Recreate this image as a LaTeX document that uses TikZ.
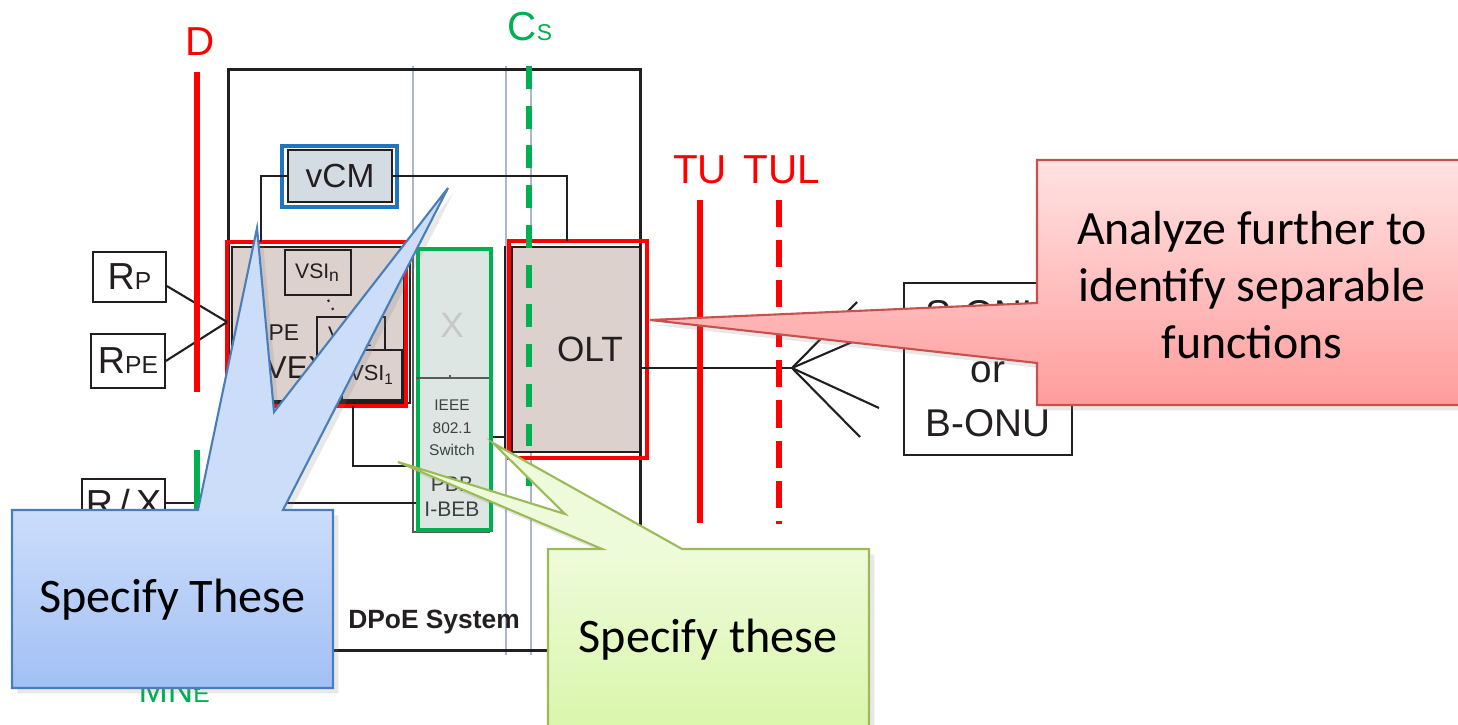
\documentclass[tikz,border=0pt]{standalone}
\usepackage{fontspec}
\setmainfont{Liberation Sans}
\newfontfamily\callfont{Carlito}
\usetikzlibrary{positioning,calc,shadows}
\definecolor{mred}{HTML}{FF0000}
\definecolor{mgreen}{HTML}{00B050}
\definecolor{inkc}{HTML}{231F20}
\definecolor{peFill}{HTML}{DCD1CD}
\definecolor{swFill}{HTML}{DDE6E3}
\definecolor{vcmFill}{HTML}{D3DCE2}
\definecolor{vcmBlue}{HTML}{1F77C4}
\definecolor{guide}{HTML}{A9B8CE}
\definecolor{blueTop}{HTML}{CCDDFA}
\definecolor{blueBot}{HTML}{A2C0F5}
\definecolor{blueEdge}{HTML}{4A7EBB}
\definecolor{greenTop}{HTML}{EEFBDA}
\definecolor{greenBot}{HTML}{D6F5A3}
\definecolor{greenEdge}{HTML}{9BBB59}
\definecolor{redTop}{HTML}{FFE3E3}
\definecolor{redBot}{HTML}{FF9C9C}
\definecolor{redEdge}{HTML}{C8504D}
\newcommand{\fsz}[2]{\fontsize{#1}{#2}\selectfont}

\begin{document}
\begin{tikzpicture}[x=0.01cm,y=-0.01cm,
  box/.style={draw=inkc,line width=0.45pt,fill=white,inner sep=0pt,text=inkc},
  fbox/.style={box,fill=peFill},
  wire/.style={draw=inkc,line width=0.6pt},
  refline/.style={line width=1.7pt},
  callout/.style={line width=0.6pt,drop shadow={opacity=0.18,shadow xshift=1.5pt,shadow yshift=-1.5pt}},
  bluepath/.style={insert path={(12,510) -- (198,510) -- (257,228) -- (274,412) -- (448,188) -- (283,510) -- (333,510) -- (333,688) -- (12,688) -- cycle}},
  greenpath/.style={insert path={(548,549) -- (602,549) -- (398,462) -- (565,514) -- (493,443) -- (682,549) -- (869,549) -- (869,760) -- (548,760) -- cycle}},
  redpath/.style={insert path={(1037,160) -- (1470,160) -- (1470,405) -- (1037,405) -- (1037,363) -- (650,320) -- (1037,303) -- cycle}}]
  \useasboundingbox (0,0) rectangle (1458,725);

  \foreach \x/\t/\b in {413/66/248,506/66/655,531/66/655}
     {\draw[guide,line width=0.5pt] (\x,\t) -- (\x,\b);}
  \node[draw=inkc,line width=0.9pt,minimum width=4.11cm,minimum height=5.8cm] (dpoe) at (434.5,360) {};
  \node[font=\bfseries\fsz{7.5}{9},text=inkc] (dpoelbl) at (434,622) {DPoE System};

  % boxes
  \node[box,minimum width=0.73cm,minimum height=0.5cm] (rp) at (129.5,277) {{\fsz{10.7}{12}R}{\fsz{7}{8}P}};
  \node[box,minimum width=0.74cm,minimum height=0.54cm] (rpe) at (128,361) {{\fsz{10.7}{12}R}{\fsz{7}{8}PE}};
  \node[box,anchor=north,minimum width=0.83cm,inner ysep=0.1cm] (rx) at (123.5,478) {\fsz{10.7}{12}R\,/\,X};
  \node[box,fill=vcmFill,minimum width=1.04cm,minimum height=0.52cm,font=\fsz{9.5}{11}] (vcm) at (340,176) {vCM};
  \draw[vcmBlue,line width=1.1pt] ($(vcm.north west)+(-5,-3)$) rectangle ($(vcm.south east)+(4,4)$);

  \draw[inkc,line width=0.6pt] (410,249) |- (235,403);
  \node[fbox,minimum width=1.72cm,minimum height=1.54cm] (pe) at (318,324) {};
  \draw[mred,line width=1.2pt] ($(pe.north west)+(-4,-4)$) rectangle ($(pe.south east)+(1,4)$);
  \node[text=inkc,anchor=west,inner sep=0pt,font=\fsz{6.5}{8}] (pelbl) at (268,333) {PE};
  \node[text=inkc,anchor=west,inner sep=0pt,font=\fsz{9}{11}] (vexlbl) at (265,368) {VEX};
  \node[fbox,minimum width=0.66cm,minimum height=0.45cm,font=\fsz{6}{7}] (vsin) at (318,272.5) {VSI\textsubscript{n}};
  \node[fbox,minimum width=0.68cm,minimum height=0.4cm,font=\fsz{6}{7}] (vsi2) at (351,337) {VSI\textsubscript{2}};
  \node[fbox,minimum width=0.6cm,minimum height=0.5cm,font=\fsz{6.2}{7}] (vsi1) at (372,375) {VSI\textsubscript{1}};
  \draw[inkc,dotted,line width=0.6pt] ($(vsin.south)+(10,4)$) -- ($(vsi2.north)+(-15,-1)$);

  \draw[gray!70!black,line width=0.6pt] (413,248) rectangle (489,532);
  \node[box,fill=swFill,draw=mgreen,line width=1.2pt,minimum width=0.73cm,minimum height=2.81cm] (sw) at (454.5,389.5) {};
  \draw[gray!70!black,line width=0.4pt] ($(sw.west)+(0,-11.5)$) -- ($(sw.east)+(-4,-11.5)$);
  \draw[gray!70!black,line width=0.4pt] ($(sw.west)+(34,-11.5)$) -- ++(0,-3);
  \node[text=black!22,font=\fsz{10}{12}] (swx) at (452,325) {X};
  \node[text=black!75,font=\fsz{4.4}{6.4},align=center] (swlbl) at (452,428) {IEEE\\802.1\\Switch};
  \node[text=black!75,font=\fsz{6}{7.2},align=center] (pbb) at (452,497) {PBB\\I-BEB};

  \node[fbox,minimum width=1.28cm,minimum height=2.05cm] (olt) at (576,349.5) {};
  \draw[inkc,line width=0.6pt] ($(olt.north west)+(-6,0)$) -- ($(olt.south west)+(-6,0)$);
  \draw[mred,line width=1.2pt] ($(olt.north west)+(-2,-5)$) rectangle ($(olt.south east)+(6,5)$);
  \node[text=inkc,font=\fsz{10}{12}] (oltlbl) at (590,349) {OLT};

  \node[box,minimum width=1.68cm,minimum height=1.72cm,font=\fsz{11}{15.5},align=center] (onu) at (988,369) {S-ONU\\or\\B-ONU};

  % connectors
  \coordinate (pejoin) at ($(pe.west)+(-4,-2)$);
  \draw[wire] ($(rp.east)+(0,9)$) -- (pejoin);
  \draw[wire] (rpe.east) -- (pejoin);
  \draw[wire] (vcm.west) -| ($(pe.north west)!.174!(pe.north east)+(0,-4)$);
  \draw[wire] (vcm.east) -| ($(olt.north west)!.43!(olt.north east)+(0,-5)$);
  \draw[wire] ($(pe.south west)!.70!(pe.south east)+(0,4)$) |- ($(sw.west)+(-5,76.5)$);
  \draw[wire] (rx.east) -- (rx.east -| sw.west);
  \draw[wire] ($(sw.east)+(0,47.5)$) -- ($(olt.west)+(-6,87.5)$);
  \coordinate (spl) at (792,368);
  \coordinate (fa) at (857,302);
  \coordinate (fb) at (873,333);
  \coordinate (fc) at (879,408);
  \coordinate (fd) at (860,437);
  \draw[wire] (olt.east |- spl) -- (spl);
  \foreach \e in {fa,fb,fc,fd} {\draw[wire] (spl) -- (\e);}

  % reference points
  \draw[mred,refline] (197,72) -- (197,392);
  \draw[mgreen,refline] (197,450) -- (197,690);
  \draw[mgreen,refline,dash pattern=on 6.5pt off 4.8pt] (529,66) -- (529,492);
  \draw[mred,refline] (700,200) -- (700,523);
  \draw[mred,refline,dash pattern=on 7.7pt off 3.7pt] (779,200) -- (779,524);
  \node[text=mred,font=\fsz{11.5}{13}] (dlbl) at (200,42) {D};
  \node[text=mgreen] (cslbl) at (530,27) {{\fsz{11.5}{13}C}{\fsz{6.5}{7}S}};
  \node[text=mred,font=\fsz{11.5}{13}] (tulbl) at (700,170) {TU};
  \node[text=mred,font=\fsz{11.5}{13}] (tullbl) at (782,170) {TUL};
  \node[text=mgreen,anchor=base west,inner sep=0pt] (mnelbl) at (138,702) {{\fsz{10}{12}MN}{\fsz{7}{8}E}};

  % callouts
  \path[callout,fill=blueTop,bluepath];
  \shade[top color=blueTop,bottom color=blueBot] (12,510) rectangle (333,688);
  \path[draw=blueEdge,line width=0.6pt,bluepath];
  \node[font=\callfont\fsz{13.7}{16.5}] (specblue) at (172.5,600) {Specify These};

  \path[callout,fill=greenTop,greenpath];
  \shade[top color=greenTop,bottom color=greenBot] (548,549) rectangle (869,760);
  \path[draw=greenEdge,line width=0.6pt,greenpath];
  \node[font=\callfont\fsz{13.7}{16.5}] (specgreen) at (708,640) {Specify these};

  \path[callout,top color=redTop,bottom color=redBot,draw=redEdge,redpath];
  \node[font=\callfont\fsz{13.6}{16.2},align=center] (analyze) at (1252,285) {Analyze further to\\identify separable\\functions};
\end{tikzpicture}
\end{document}
